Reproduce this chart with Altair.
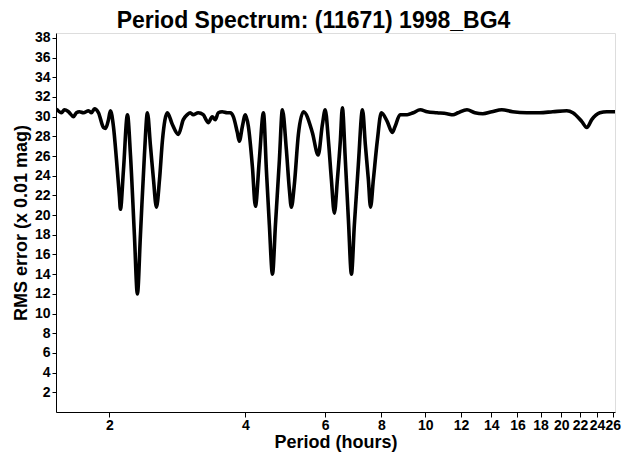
import altair as alt
import pandas as pd

periods = [
    1.526, 1.566, 1.590, 1.623, 1.665, 1.690, 1.716, 1.752, 1.798, 1.825,
    1.853, 1.891, 1.940, 1.960, 1.990, 2.010, 2.041, 2.073, 2.104, 2.115,
    2.148, 2.192, 2.226, 2.271, 2.306, 2.342, 2.390, 2.427, 2.464, 2.503,
    2.541, 2.581, 2.620, 2.687, 2.756, 2.841, 2.914, 2.973, 3.019, 3.065,
    3.144, 3.225, 3.308, 3.377, 3.430, 3.482, 3.553, 3.645, 3.702, 3.760,
    3.837, 3.876, 3.937, 3.998, 4.060, 4.144, 4.208, 4.292, 4.384, 4.450,
    4.518, 4.590, 4.660, 4.755, 4.828, 4.926, 5.003, 5.054, 5.131, 5.238,
    5.376, 5.624, 5.794, 5.920, 6.006, 6.104, 6.198, 6.292, 6.390, 6.488,
    6.554, 6.654, 6.760, 6.864, 6.967, 7.110, 7.262, 7.370, 7.483, 7.566,
    7.676, 7.834, 7.994, 8.240, 8.452, 8.574, 8.796, 9.122, 9.406, 9.746,
    10.10, 10.62, 11.17, 11.52, 11.82, 12.37, 12.88, 13.41, 14.04, 14.77,
    15.61, 16.77, 17.91, 19.15, 20.57, 21.22, 22.21, 22.78, 23.36, 24.34,
    25.24, 26.02, 26.3,
]
rms = [
    30.8, 30.4, 30.7, 30.5, 30.0, 30.4, 30.5, 30.4, 30.6, 30.4,
    30.8, 30.4, 28.9, 28.8, 29.7, 30.6, 29.0, 25.6, 21.9, 20.6,
    24.6, 30.2, 26.1, 18.0, 12.0, 18.0, 26.1, 30.4, 27.1, 23.6,
    20.8, 23.6, 27.6, 30.4, 29.2, 28.2, 29.7, 30.2, 30.4, 30.2,
    30.4, 30.2, 29.4, 30.0, 29.7, 30.4, 30.5, 30.4, 30.4, 30.0,
    28.4, 27.5, 29.0, 30.2, 29.0, 24.9, 20.9, 25.6, 30.4, 24.6,
    19.0, 14.0, 19.0, 25.6, 30.7, 26.7, 22.6, 20.8, 23.1, 28.2,
    30.5, 28.4, 26.1, 29.2, 30.7, 27.6, 23.6, 20.2, 23.6, 27.6,
    30.9, 25.6, 19.5, 14.0, 19.0, 25.1, 30.7, 27.1, 23.6, 20.8,
    23.6, 27.6, 30.4, 29.5, 28.4, 29.0, 30.2, 30.2, 30.4, 30.7,
    30.5, 30.4, 30.3, 30.2, 30.4, 30.7, 30.4, 30.3, 30.5, 30.7,
    30.5, 30.4, 30.4, 30.5, 30.6, 30.4, 29.5, 28.9, 29.7, 30.4,
    30.5, 30.5, 30.5,
]
x_ticks = [2, 4, 6, 8, 10, 12, 14, 16, 18, 20, 22, 24, 26]
y_ticks = list(range(2, 40, 2))

df = pd.DataFrame({"period": periods, "rms": rms})

FONT = "Liberation Sans"

chart = alt.Chart(df).mark_line(
    color="black", strokeWidth=3.6, interpolate="monotone", clip=True
).encode(
    x=alt.X("period:Q",
            scale=alt.Scale(type="log", domain=[1.523, 26.3], nice=False),
            axis=alt.Axis(values=x_ticks, format="d", title="Period (hours)",
                          labelOverlap=False, labelFlush=False, grid=False,
                          labelFontSize=14, labelFontWeight="bold", labelFont=FONT,
                          titleFontSize=18, titleFontWeight="bold", titleFont=FONT,
                          domainColor="black", tickColor="black", tickSize=5,
                          labelColor="black", titleColor="black",
                          labelPadding=1, titlePadding=1)),
    y=alt.Y("rms:Q",
            scale=alt.Scale(domain=[0, 38.5], nice=False, zero=False),
            axis=alt.Axis(values=y_ticks, title="RMS error (x 0.01 mag)",
                          grid=False, labelOverlap=False, labelFlush=False,
                          labelFontSize=14, labelFontWeight="bold", labelFont=FONT,
                          titleFontSize=18, titleFontWeight="bold", titleFont=FONT,
                          domainColor="black", tickColor="black", tickSize=4,
                          labelColor="black", titleColor="black",
                          labelPadding=2, titlePadding=4)),
).properties(
    width=559, height=379,
    title=alt.TitleParams("Period Spectrum: (11671) 1998_BG4", fontSize=23,
                          fontWeight="bold", font=FONT, color="black",
                          anchor="middle", dx=-22, offset=-2),
    autosize=alt.AutoSizeParams(type="none"),
    padding={"left": 56, "top": 33, "right": 12, "bottom": 45},
).configure_view(stroke="#888888", strokeWidth=1.5).configure(background="white")

chart.save("out.html", embed_options={"renderer": "svg", "actions": False})
